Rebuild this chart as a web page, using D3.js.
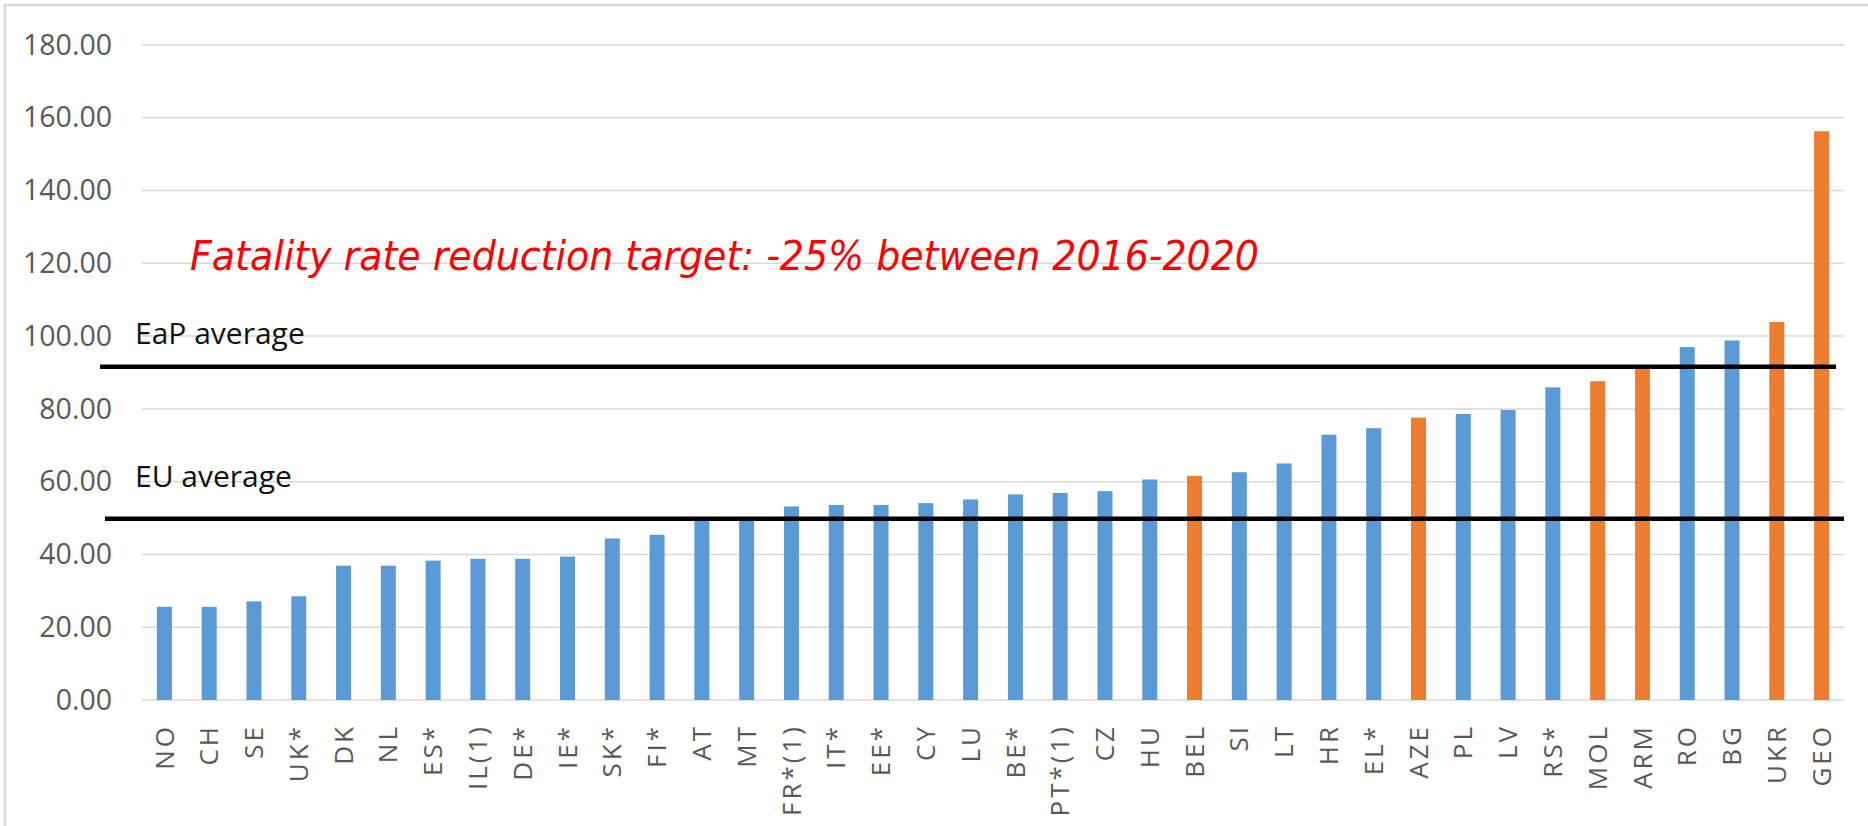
<!DOCTYPE html>
<html>
<head>
<meta charset="utf-8">
<script src="https://cdn.jsdelivr.net/npm/d3@7"></script>
<style>
  body { margin: 0; background: #ffffff; }
  svg { display: block; }
</style>
</head>
<body>
<div id="chart"></div>
<script>
// Data: fatality rate per country, sorted low to high
let countries = ["NO", "CH", "SE", "UK*", "DK", "NL", "ES*", "IL(1)", "DE*", "IE*",
  "SK*", "FI*", "AT", "MT", "FR*(1)", "IT*", "EE*", "CY", "LU", "BE*",
  "PT*(1)", "CZ", "HU", "BEL", "SI", "LT", "HR", "EL*", "AZE", "PL",
  "LV", "RS*", "MOL", "ARM", "RO", "BG", "UKR", "GEO"];
let rates = [25.6, 25.6, 27.1, 28.5, 36.9, 36.9, 38.3, 38.8, 38.8, 39.4,
  44.4, 45.4, 49.6, 49.6, 53.2, 53.6, 53.6, 54.1, 55.1, 56.5,
  56.9, 57.4, 60.6, 61.6, 62.6, 65.0, 72.9, 74.7, 77.6, 78.6,
  79.7, 85.9, 87.6, 91.5, 97.0, 98.8, 103.9, 156.3];
// Eastern Partnership countries get the orange colour
let eapCountries = ["BEL", "AZE", "MOL", "ARM", "UKR", "GEO"];
let yTicks = [0, 20, 40, 60, 80, 100, 120, 140, 160, 180];
let averages = [
  { label: "EaP average", value: 91.6 },
  { label: "EU average", value: 49.8 }
];
let targetNote = "Fatality rate reduction target: -25% between 2016-2020";

let svgWidth = 1868;
let svgHeight = 826;
let margin = { top: 45, right: 24, bottom: 126, left: 142 };
let width = svgWidth - margin.left - margin.right;
let height = svgHeight - margin.top - margin.bottom;

let svg = d3.select("#chart")
  .append("svg")
  .attr("width", svgWidth)
  .attr("height", svgHeight);

// light frame like the excel chart area
svg.append("rect")
  .attr("x", 5)
  .attr("y", 5)
  .attr("width", svgWidth + 10)
  .attr("height", svgHeight + 10)
  .attr("fill", "none")
  .attr("stroke", "#d9d9d9")
  .attr("stroke-width", 2.5);

let chartGroup = svg.append("g")
  .attr("transform", `translate(${margin.left}, ${margin.top})`);

// scales
let xBandScale = d3.scaleBand()
  .domain(countries)
  .range([0, width])
  .paddingInner(0.665)
  .paddingOuter(0.3325);

let yLinearScale = d3.scaleLinear()
  .domain([0, 180])
  .range([height, 0]);

// gridlines
chartGroup.append("g")
  .selectAll("line")
  .data(yTicks)
  .enter()
  .append("line")
  .attr("x1", 0)
  .attr("x2", width)
  .attr("y1", d => yLinearScale(d))
  .attr("y2", d => yLinearScale(d))
  .attr("stroke", "#d9d9d9")
  .attr("stroke-width", 1.5);

// y axis labels
let leftAxis = d3.axisLeft(yLinearScale)
  .tickValues(yTicks)
  .tickFormat(d3.format(".2f"))
  .tickSize(0)
  .tickPadding(30);

let yAxis = chartGroup.append("g").call(leftAxis);
yAxis.select(".domain").remove();
yAxis.selectAll("text")
  .attr("fill", "#595959")
  .style("font-family", "'Open Sans', sans-serif")
  .style("font-size", "28.5px");

// bars
let rows = countries.map((c, i) => ({ country: c, rate: rates[i] }));

chartGroup.selectAll("rect.bar")
  .data(rows)
  .enter()
  .append("rect")
  .attr("class", "bar")
  .attr("x", d => xBandScale(d.country))
  .attr("y", d => yLinearScale(d.rate))
  .attr("width", xBandScale.bandwidth())
  .attr("height", d => height - yLinearScale(d.rate))
  .attr("fill", d => eapCountries.includes(d.country) ? "#ed7d31" : "#5b9bd5");

// x axis labels, rotated
let bottomAxis = d3.axisBottom(xBandScale).tickSize(0).tickPadding(0);
let xAxis = chartGroup.append("g")
  .attr("transform", `translate(0, ${height})`)
  .call(bottomAxis);
xAxis.select(".domain").remove();
xAxis.selectAll("text")
  .attr("transform", "rotate(-90)")
  .attr("x", -24)
  .attr("y", 0)
  .attr("dy", "0.35em")
  .style("text-anchor", "end")
  .attr("fill", "#595959")
  .style("font-family", "'Open Sans', sans-serif")
  .style("font-size", "26px")
  .style("letter-spacing", "3px");

// average lines with their labels
let lineStart = [-42, -37];
let lineEnd = [width - 8, width];
let labelGap = [23, 32];
averages.forEach(function(a, i) {
  chartGroup.append("line")
    .attr("x1", lineStart[i])
    .attr("x2", lineEnd[i])
    .attr("y1", yLinearScale(a.value))
    .attr("y2", yLinearScale(a.value))
    .attr("stroke", "#000000")
    .attr("stroke-width", 4.5);
  chartGroup.append("text")
    .attr("x", -7)
    .attr("y", yLinearScale(a.value) - labelGap[i])
    .attr("fill", "#111111")
    .style("font-family", "'Open Sans', sans-serif")
    .style("font-size", "30px")
    .text(a.label);
});

// red target note
let note = chartGroup.append("text")
  .attr("x", 48)
  .attr("y", yLinearScale(120) + 7)
  .attr("fill", "#ff0000")
  .style("font-family", "'DejaVu Sans', sans-serif")
  .style("font-style", "italic")
  .style("font-size", "40px")
  .text(targetNote);

// squeeze to the width used in the original
let noteWidth = 1069;
if (note.node().getComputedTextLength() > noteWidth) {
  note.attr("textLength", noteWidth).attr("lengthAdjust", "spacingAndGlyphs");
}
</script>
</body>
</html>
